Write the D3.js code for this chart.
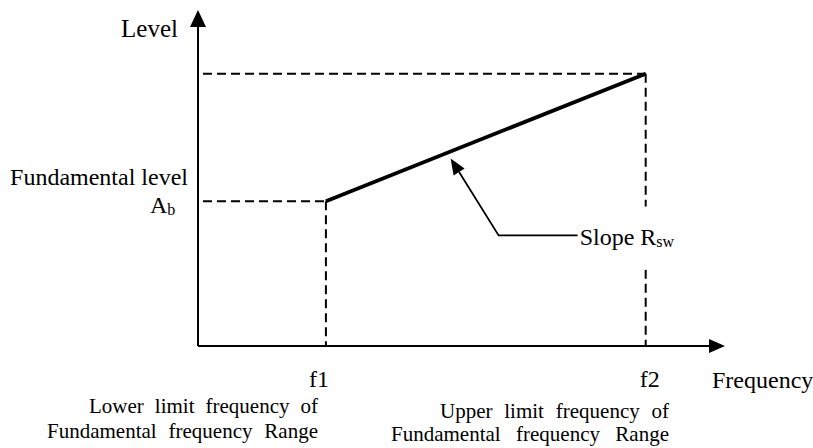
<!DOCTYPE html>
<html>
<head>
<meta charset="utf-8">
<script src="https://cdn.jsdelivr.net/npm/d3@7"></script>
<style>
  html, body { margin: 0; padding: 0; background: #fff; }
  svg { display: block; }
</style>
</head>
<body>
<svg id="chart" width="813" height="448" font-family="'Liberation Serif', 'Times New Roman', Tinos, 'DejaVu Serif', serif"></svg>
<script>
// Frequency points of the fundamental range and the level at each end
const freqLabels = ["f1", "f2"];
const freqValues = [1, 3.5];
const levelValues = [1, 1.88];          // A_b at f1, level at f2
const axisMax = { freq: 4.12, level: 2.32 };

const noteLines = [
  ["Lower limit frequency of", "Fundamental frequency Range"],
  ["Upper limit frequency of", "Fundamental frequency Range"]
];

const svg = d3.select("#chart");

const x = d3.scaleLinear().domain([0, axisMax.freq]).range([198, 725]);
const y = d3.scaleLinear().domain([0, axisMax.level]).range([346, 10]);

const x0 = x(0), y0 = y(0);

// ---- axes with arrowheads ----
const axes = svg.append("g").attr("stroke", "#000").attr("stroke-width", 2);
axes.append("line").attr("x1", x0).attr("y1", y0).attr("x2", x0).attr("y2", y(axisMax.level) + 14);
axes.append("line").attr("x1", x0).attr("y1", y0).attr("x2", x(axisMax.freq) - 14).attr("y2", y0);

svg.append("path")
  .attr("d", `M${x0},${y(axisMax.level)} L${x0 - 8},${y(axisMax.level) + 17} L${x0 + 8},${y(axisMax.level) + 17} Z`)
  .attr("fill", "#000");
svg.append("path")
  .attr("d", `M${x(axisMax.freq)},${y0} L${x(axisMax.freq) - 16},${y0 - 7} L${x(axisMax.freq) - 16},${y0 + 7} Z`)
  .attr("fill", "#000");

// ---- dashed guide lines ----
const guides = svg.append("g")
  .attr("stroke", "#000").attr("stroke-width", 2)
  .attr("stroke-dasharray", "9,5").attr("fill", "none");

levelValues.forEach((lv, i) => {
  guides.append("line")
    .attr("x1", x0 + 5).attr("y1", y(lv))
    .attr("x2", x(freqValues[i])).attr("y2", y(lv));
  guides.append("line")
    .attr("x1", x(freqValues[i])).attr("y1", y(lv))
    .attr("x2", x(freqValues[i])).attr("y2", y0);
});

// ---- slope line ----
const line = d3.line().x(d => x(d[0])).y(d => y(d[1]));
svg.append("path")
  .datum(freqValues.map((f, i) => [f, levelValues[i]]))
  .attr("d", line)
  .attr("stroke", "#000").attr("stroke-width", 3.8).attr("fill", "none");

// ---- slope annotation ----
const t = 0.39;
const tipF = freqValues[0] + t * (freqValues[1] - freqValues[0]);
const tipL = levelValues[0] + t * (levelValues[1] - levelValues[0]);
const tip = [x(tipF), y(tipL) + 7];
const elbow = [tip[0] + 48, tip[1] + 77];
const tail = [elbow[0] + 79, elbow[1]];

// label box hides the guide behind it
svg.append("rect")
  .attr("x", tail[0] + 1).attr("y", tail[1] - 29)
  .attr("width", 112).attr("height", 63)
  .attr("fill", "#fff");

const ang = Math.atan2(tip[1] - elbow[1], tip[0] - elbow[0]);
const ah = 16, aw = 6.5;
const base = [tip[0] - ah * Math.cos(ang), tip[1] - ah * Math.sin(ang)];
svg.append("path")
  .attr("d", `M${tail[0]},${tail[1]} L${elbow[0]},${elbow[1]} L${base[0]},${base[1]}`)
  .attr("stroke", "#000").attr("stroke-width", 1.8).attr("fill", "none");
svg.append("path")
  .attr("d", `M${tip[0]},${tip[1]}
              L${base[0] + aw * Math.sin(ang)},${base[1] - aw * Math.cos(ang)}
              L${base[0] - aw * Math.sin(ang)},${base[1] + aw * Math.cos(ang)} Z`)
  .attr("fill", "#000");

const slopeLabel = svg.append("text")
  .attr("x", tail[0] + 2).attr("y", tail[1] + 10)
  .attr("font-size", 24);
slopeLabel.append("tspan").text("Slope R");
slopeLabel.append("tspan").attr("font-size", 16).attr("dy", 2).text("sw");

// ---- axis titles ----
svg.append("text").attr("x", 178).attr("y", 37)
  .attr("text-anchor", "end").attr("font-size", 25).text("Level");
svg.append("text").attr("x", 712).attr("y", 388)
  .attr("font-size", 24).text("Frequency");

svg.append("text").attr("x", 188).attr("y", 185)
  .attr("text-anchor", "end").attr("font-size", 24).text("Fundamental level");
const ab = svg.append("text").attr("x", 150).attr("y", y(levelValues[0]) + 12)
  .attr("font-size", 24);
ab.append("tspan").text("A");
ab.append("tspan").attr("font-size", 16).attr("dy", 2).text("b");

// ---- frequency tick labels ----
svg.selectAll(".flabel")
  .data(freqLabels)
  .join("text")
  .attr("class", "flabel")
  .attr("x", (d, i) => x(freqValues[i]) + (i === 0 ? 3 : -6))
  .attr("y", 387)
  .attr("text-anchor", (d, i) => i === 0 ? "end" : "start")
  .attr("font-size", 24)
  .text(d => d);

// ---- justified notes under f1 and f2 ----
function justified(lines, right, lefts, baselines) {
  lines.forEach((ln, k) => {
    const words = ln.split(" ");
    const g = svg.append("g");
    const nodes = words.map(w => g.append("text").attr("font-size", 21).attr("y", baselines[k]).text(w));
    const widths = nodes.map(n => n.node().getComputedTextLength());
    const total = d3.sum(widths);
    const gap = (right - lefts[k] - total) / (words.length - 1);
    let cx = lefts[k];
    nodes.forEach((n, j) => { n.attr("x", cx); cx += widths[j] + gap; });
  });
}
justified(noteLines[0], 318, [89, 47], [413, 438]);
justified(noteLines[1], 669, [440, 391], [418, 441]);
</script>
</body>
</html>
